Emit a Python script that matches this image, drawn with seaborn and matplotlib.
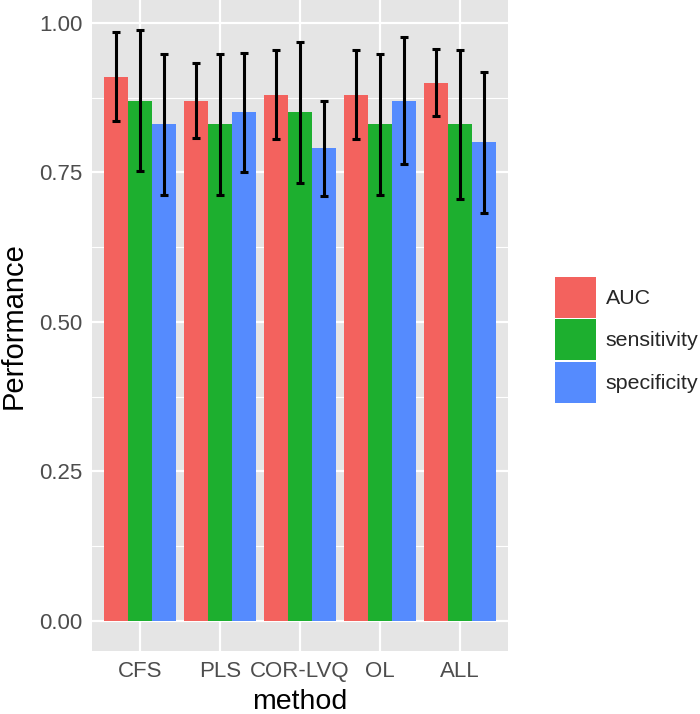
import numpy as np
import pandas as pd
import matplotlib
matplotlib.use("Agg")
import matplotlib.pyplot as plt
import seaborn as sns
from matplotlib.patches import Patch

# values
methods = ["CFS", "PLS", "COR-LVQ", "OL", "ALL"]
measures = ["AUC", "sensitivity", "specificity"]
auc = [0.91, 0.87, 0.88, 0.88, 0.90]
sensitivity = [0.87, 0.83, 0.85, 0.83, 0.83]
specificity = [0.83, 0.85, 0.79, 0.87, 0.80]
auc_err = [0.075, 0.062, 0.075, 0.075, 0.056]
sens_err = [0.118, 0.118, 0.118, 0.118, 0.124]
spec_err = [0.118, 0.100, 0.080, 0.106, 0.118]

colors = ["#F3625E", "#1DAF2F", "#558BFE"]

rows = []
for m, vals, errs in zip(measures, [auc, sensitivity, specificity], [auc_err, sens_err, spec_err]):
    for meth, v, e in zip(methods, vals, errs):
        rows.append({"method": meth, "measure": m, "Performance": v, "err": e})
df = pd.DataFrame(rows)

sns.set_theme(style="darkgrid")
plt.rcParams["font.family"] = ["Liberation Sans", "DejaVu Sans"]

fig = plt.figure(figsize=(7, 7.14), dpi=100)
ax = fig.add_axes([92 / 700, 63 / 714, 416 / 700, 651 / 714])
ax.set_facecolor("#E5E5E5")

sns.barplot(data=df, x="method", y="Performance", hue="measure", order=methods,
            hue_order=measures, palette=colors, errorbar=None, width=0.9,
            saturation=1, linewidth=0, ax=ax)

# error bars at the bar centres
for cont, m in zip(ax.containers, measures):
    sub = df[df.measure == m].set_index("method").loc[methods]
    xs = [p.get_x() + p.get_width() / 2 for p in cont.patches]
    ax.errorbar(xs, sub["Performance"], yerr=sub["err"], fmt="none", ecolor="black",
                elinewidth=2.2, capsize=3, capthick=2.2, zorder=5)

ax.set_ylim(-0.05, 1.038)
ax.set_xlim(-0.6, 4.6)
ax.set_yticks([0, 0.25, 0.5, 0.75, 1.0])
ax.set_yticklabels(["0.00", "0.25", "0.50", "0.75", "1.00"])
ax.set_yticks([0.125, 0.375, 0.625, 0.875], minor=True)
ax.grid(which="major", color="white", linewidth=1.6)
ax.grid(which="minor", axis="y", color="white", linewidth=0.8)
ax.set_axisbelow(True)
for s in ax.spines.values():
    s.set_visible(False)
ax.tick_params(axis="both", which="major", length=4, width=1.2, color="#333333",
               labelsize=16, labelcolor="#4D4D4D", pad=3, direction="out")
ax.tick_params(which="minor", length=0)
ax.set_xlabel("method", fontsize=20.5, color="black", labelpad=5.5)
ax.set_ylabel("Performance", fontsize=21, color="black", labelpad=8)

ax.get_legend().remove()
handles = [Patch(facecolor=c, edgecolor="none", label=m) for c, m in zip(colors, measures)]
fig.legend(handles=handles, loc="center left", bbox_to_anchor=(555 / 700, 0.524),
           frameon=False, fontsize=15.4, handlelength=1.92, handleheight=2.57,
           labelspacing=0.07, handletextpad=0.45, borderpad=0, borderaxespad=0)

fig.savefig("out.png", dpi=100)
